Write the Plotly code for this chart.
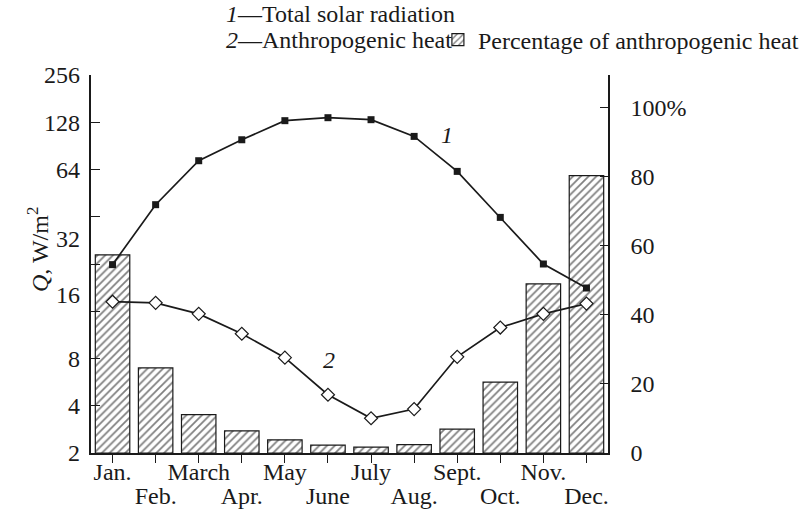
import math
import plotly.graph_objects as go

# Monthly categories; odd months are labelled on the first row, even months on the second
months = ["Jan.", "Feb.", "March", "Apr.", "May", "June",
          "July", "Aug.", "Sept.", "Oct.", "Nov.", "Dec."]
row1_text = [m if i % 2 == 0 else "" for i, m in enumerate(months)]
row2_pos = [i for i in range(len(months)) if i % 2 == 1]
row2_text = [months[i] for i in row2_pos]

# Q, W/m^2 (log2 axis)
solar_radiation = [31.7, 76.4, 145.6, 198.0, 262.0, 273.7,
                   265.8, 208.0, 124.5, 63.4, 32.0, 22.5]
anthropogenic_heat = [18.4, 18.1, 15.4, 11.5, 8.1, 4.7,
                      3.33, 3.81, 8.2, 12.6, 15.4, 17.9]

# Share of anthropogenic heat, % (right axis)
anthropogenic_pct = [57.3, 24.6, 11.1, 6.4, 3.8, 2.3,
                     1.7, 2.4, 6.9, 20.5, 48.9, 80.2]

# Left axis: octave tick marks and the label column beside them
q_tick_marks = [2, 4, 8, 16, 32, 64, 128, 256, 512]
q_label_pos = [2, 4, 8, 20.4, 46.4, 128, 256, 512]
q_label_text = ["2", "4", "8", "16", "32", "64", "128", "256"]

# Right axis ticks
pct_ticks = [0, 20, 40, 60, 80, 100]
pct_ticktext = ["0", "20", "40", "60", "80", "100%"]

FONT = "Liberation Serif"
INK = "#1a1a1a"
FS = 24

fig = go.Figure()

fig.add_trace(go.Bar(
    x=months, y=anthropogenic_pct, yaxis="y", width=0.8,
    name="Percentage of anthropogenic heat",
    marker=dict(color="white", line=dict(color=INK, width=1.2),
                pattern=dict(shape="/", size=5.5, solidity=0.32,
                             fgcolor="black", bgcolor="white")),
    showlegend=True,
))

fig.add_trace(go.Scatter(
    x=months, y=solar_radiation, yaxis="y2", mode="lines+markers",
    line=dict(color=INK, width=1.7),
    marker=dict(symbol="square", size=7, color=INK),
    showlegend=False,
))

fig.add_trace(go.Scatter(
    x=months, y=anthropogenic_heat, yaxis="y2", mode="lines+markers",
    line=dict(color=INK, width=1.7),
    marker=dict(symbol="diamond", size=10, color="white",
                line=dict(color=INK, width=1.2)),
    showlegend=False,
))

# empty traces so the label-only axes get drawn
fig.add_trace(go.Scatter(x=[], y=[], yaxis="y3", showlegend=False,
                         hoverinfo="skip"))
fig.add_trace(go.Scatter(x=[], y=[], xaxis="x2", yaxis="y", showlegend=False,
                         hoverinfo="skip"))

log_range = [math.log10(2), math.log10(512)]

fig.update_layout(
    width=804, height=529,
    margin=dict(l=91, r=196, t=75, b=76, autoexpand=False),
    paper_bgcolor="white", plot_bgcolor="white",
    font=dict(family=FONT, size=FS, color=INK),
    bargap=0.2,
    xaxis=dict(
        type="category", range=[-0.5, 11.5], automargin=False,
        tickvals=months, ticktext=row1_text, tickangle=0,
        ticks="outside", ticklen=8, tickwidth=1.2, tickcolor=INK,
        ticklabelstandoff=-12,
        showline=True, linecolor=INK, linewidth=1.5,
        showgrid=False, zeroline=False,
    ),
    xaxis2=dict(
        overlaying="x", side="bottom", anchor="y", type="linear",
        range=[-0.5, 11.5], automargin=False,
        tickvals=row2_pos, ticktext=row2_text, tickangle=0,
        ticks="", ticklabelstandoff=26,
        showline=False, showgrid=False, zeroline=False,
    ),
    yaxis=dict(
        side="right", range=[0, 109.3], automargin=False,
        tickvals=pct_ticks, ticktext=pct_ticktext,
        ticks="inside", ticklen=8, tickwidth=1.2, tickcolor=INK,
        ticklabelstandoff=16,
        showline=True, linecolor=INK, linewidth=1.5,
        showgrid=False, zeroline=False,
    ),
    yaxis2=dict(
        overlaying="y", side="left", type="log", range=log_range,
        anchor="x", automargin=False,
        tickvals=q_tick_marks, showticklabels=False,
        ticks="inside", ticklen=9, tickwidth=1.2, tickcolor=INK,
        showline=True, linecolor=INK, linewidth=1.5,
        showgrid=False, zeroline=False,
    ),
    yaxis3=dict(
        overlaying="y", side="left", type="log", range=log_range,
        anchor="x", automargin=False,
        tickvals=q_label_pos, ticktext=q_label_text,
        ticks="", ticklabelstandoff=10,
        showline=False, showgrid=False, zeroline=False,
    ),
    legend=dict(
        orientation="h", x=0.671, y=1.0926,
        xanchor="left", yanchor="middle",
        font=dict(family=FONT, size=FS, color=INK),
        bgcolor="rgba(0,0,0,0)", borderwidth=0,
    ),
)

annotations = [
    dict(text="<i>1</i>—Total solar radiation", x=0.2573, y=1.1614,
         xref="paper", yref="paper", xanchor="left", yanchor="middle",
         showarrow=False),
    dict(text="<i>2</i>—Anthropogenic heat", x=0.2573, y=1.0926,
         xref="paper", yref="paper", xanchor="left", yanchor="middle",
         showarrow=False),
    dict(text="<i>Q</i>, W/m<sup>2</sup>", textangle=-90,
         x=-0.1025, y=0.537, xref="paper", yref="paper",
         xanchor="center", yanchor="middle", showarrow=False),
    dict(text="<i>1</i>", x=(447 - 91) / 517, y=(453 - 135) / 378,
         xref="paper", yref="paper", xanchor="center", yanchor="middle",
         showarrow=False),
    dict(text="<i>2</i>", x=(329 - 91) / 517, y=(453 - 360) / 378,
         xref="paper", yref="paper", xanchor="center", yanchor="middle",
         showarrow=False),
]
fig.update_layout(annotations=annotations)

fig.write_html("out.html")
